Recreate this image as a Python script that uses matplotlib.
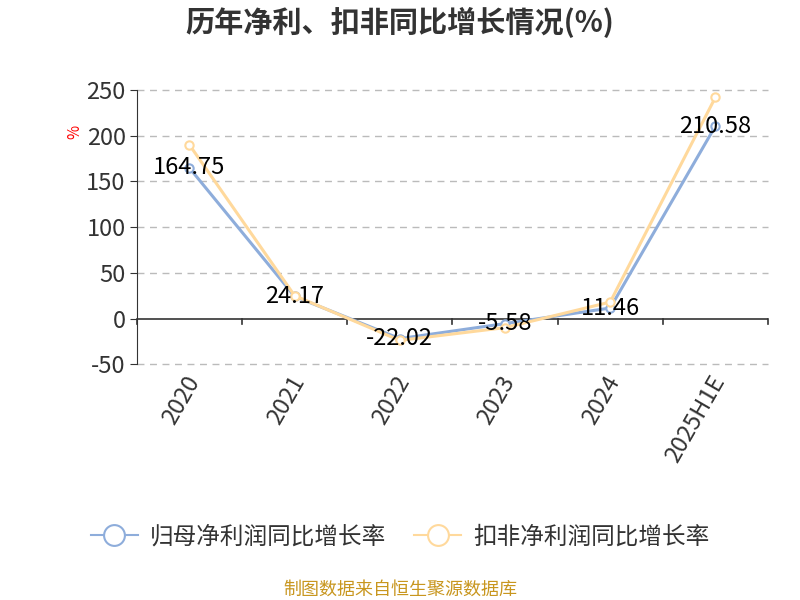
import matplotlib
matplotlib.use("Agg")
import matplotlib.pyplot as plt
from matplotlib.lines import Line2D
import numpy as np

plt.rcParams['font.family'] = ['Noto Sans CJK SC', 'DejaVu Sans']

categories = ["2020", "2021", "2022", "2023", "2024", "2025H1E"]
net_profit = [164.75, 24.17, -22.02, -5.58, 11.46, 210.58]
deducted = [190.0, 25.0, -24.0, -10.0, 18.0, 242.0]
yticks = [-50, 0, 50, 100, 150, 200, 250]
series_names = ["归母净利润同比增长率", "扣非净利润同比增长率"]

blue = "#8EADDB"
orange = "#FFD99C"

fig = plt.figure(figsize=(8, 6), dpi=100)
ax = fig.add_axes([0.171, 0.393, 0.789, 0.457])

x = np.arange(len(categories))
ax.plot(x, net_profit, color=blue, lw=2.2, marker='o', ms=6, mfc='white', mec=blue, mew=1.5, zorder=3)
ax.plot(x, deducted, color=orange, lw=2.2, marker='o', ms=6, mfc='white', mec=orange, mew=1.5, zorder=4)

for xi, v in zip(x, net_profit):
    ax.text(xi, v, f"{v:.2f}", ha='center', va='center', fontsize=17, color='black', zorder=5)

ax.set_xlim(-0.5, len(categories) - 0.5)
ax.set_ylim(-50, 250)
ax.set_yticks(yticks)
ax.set_yticklabels([str(t) for t in yticks], fontsize=17, color='#333333')
for t in yticks:
    if t != 0:
        ax.axhline(t, color='#BBBBBB', lw=1, ls=(0, (5, 4)), zorder=1, clip_on=False)

for s in ['top', 'right', 'bottom']:
    ax.spines[s].set_visible(False)
ax.spines['left'].set_color('#333333')
ax.axhline(0, color='#333333', lw=1.2, zorder=2)
ax.tick_params(axis='y', length=5, color='#333333', pad=3)

ax.set_xticks([])
for b in np.arange(-0.5, len(categories), 1.0):
    ax.plot([b, b], [0, -6], color='#333333', lw=1.2, clip_on=False, zorder=2)

for xi, c in zip(x, categories):
    ax.text(xi - 0.05, -58, c, rotation=60, ha='right', va='top', rotation_mode='anchor',
            fontsize=17, color='#333333')

fig.text(0.094, 0.78, "%", color='red', fontsize=11, rotation=90, ha='center', va='center')

fig.text(0.5, 0.962, "历年净利、扣非同比增长情况(%)", ha='center', va='center', fontsize=21,
         fontweight='bold', color='#333333')

handles = [
    Line2D([], [], color=blue, lw=1.5, marker='o', ms=15, mfc='white', mec=blue, mew=1.5),
    Line2D([], [], color=orange, lw=1.5, marker='o', ms=15, mfc='white', mec=orange, mew=1.5),
]
leg = fig.legend(handles, series_names, loc='center', bbox_to_anchor=(0.5, 0.105), ncol=2,
                 frameon=False, fontsize=17, handlelength=2.0, handletextpad=0.5,
                 columnspacing=1.2)
for t in leg.get_texts():
    t.set_color('#333333')

fig.text(0.5, 0.017, "制图数据来自恒生聚源数据库", ha='center', va='center', fontsize=13, color='#C8961E')

fig.savefig("out.png", dpi=100)
